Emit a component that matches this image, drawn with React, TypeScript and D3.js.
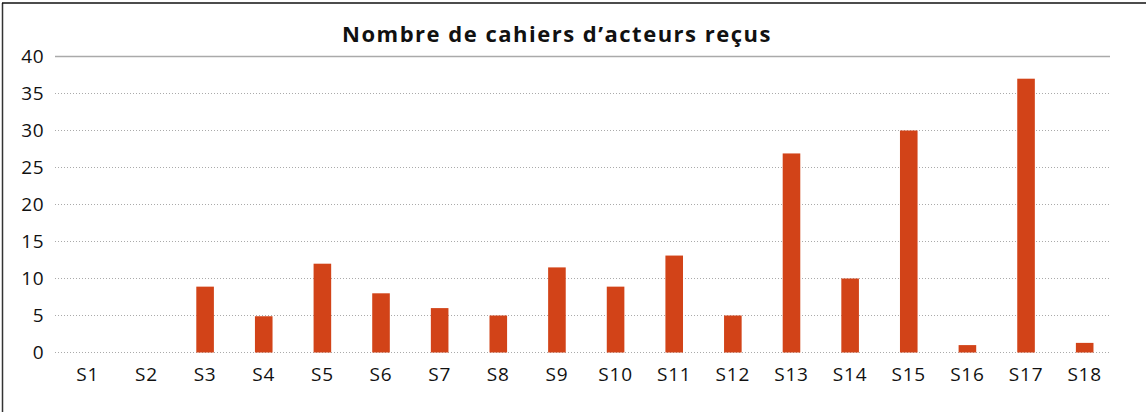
import React from 'react';
import * as d3 from 'd3';

const categories = ['S1', 'S2', 'S3', 'S4', 'S5', 'S6', 'S7', 'S8', 'S9', 'S10', 'S11', 'S12', 'S13', 'S14', 'S15', 'S16', 'S17', 'S18'];
const values = [0, 0, 8.9, 4.9, 12, 8, 6, 5, 11.5, 8.9, 13.1, 5, 26.9, 10, 30, 1, 37, 1.3];
const yTicks = [0, 5, 10, 15, 20, 25, 30, 35, 40];
const title = 'Nombre de cahiers d\u2019acteurs reçus';

const width = 1146;
const height = 412;
const font = 'Open Sans, sans-serif';

const App = () => {
  const x = d3.scaleBand<string>()
    .domain(categories)
    .range([58.5, 1114])
    .paddingInner(0.7)
    .paddingOuter(0.35);
  const y = d3.scaleLinear().domain([0, 40]).range([352.5, 56.5]);

  return (
    <svg width={width} height={height} style={{ position: 'absolute', left: 0, top: 0 }}>
      <rect x={0} y={0} width={width} height={height} fill="#fff" />
      <line x1={2.5} x2={2.5} y1={3} y2={height} stroke="#333" strokeWidth={1.5} />
      <line x1={2} x2={width} y1={3} y2={3} stroke="#111" strokeWidth={1.5} />

      <text x={557} y={42} textAnchor="middle" fontFamily={font} fontWeight="bold" fontSize={22}
        letterSpacing={1.5} fill="#111">
        {title}
      </text>

      {yTicks.map((t) => (
        <g key={t}>
          <line
            x1={55}
            x2={1110}
            y1={y(t)}
            y2={y(t)}
            stroke="#aaa"
            strokeWidth={t === 40 ? 1.5 : 1}
            strokeDasharray={t === 40 ? undefined : '1,2'}
          />
          <text x={44} y={y(t)} dy="0.35em" textAnchor="end" fontFamily={font} fontSize={19}
            letterSpacing={0.5} fill="#111">
            {t}
          </text>
        </g>
      ))}

      {categories.map((c, i) => (
        <g key={c}>
          <rect
            x={x(c)}
            y={y(values[i])}
            width={x.bandwidth()}
            height={y(0) - y(values[i])}
            fill="#d24318"
          />
          <text
            x={(x(c) || 0) + x.bandwidth() / 2}
            y={381}
            textAnchor="middle"
            fontFamily={font}
            fontSize={19}
            letterSpacing={0.8}
            fill="#111"
          >
            {c}
          </text>
        </g>
      ))}
    </svg>
  );
};

export default App;
